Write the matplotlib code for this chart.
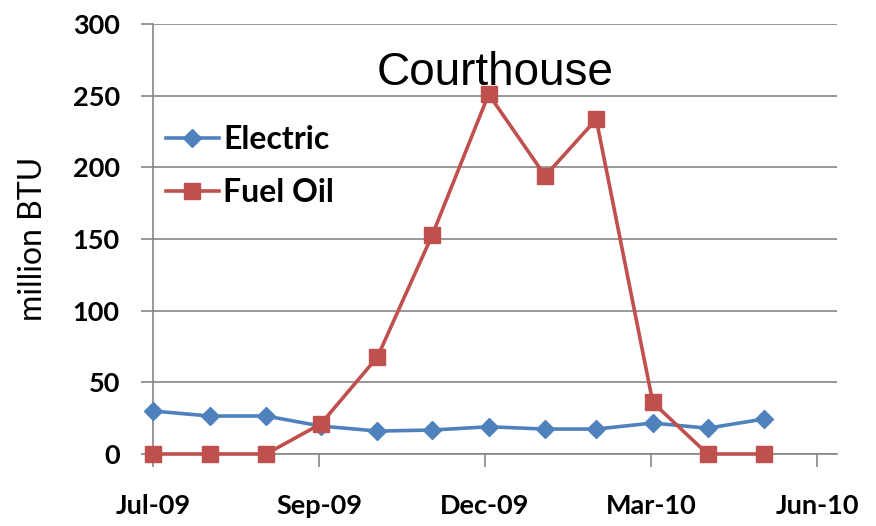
import matplotlib
matplotlib.use("Agg")
import matplotlib.pyplot as plt
import numpy as np
import datetime as dt

months = ["2009-07", "2009-08", "2009-09", "2009-10", "2009-11", "2009-12",
          "2010-01", "2010-02", "2010-03", "2010-04", "2010-05", "2010-06"]
electric = [30, 26.5, 26.5, 19.5, 16, 16.7, 19, 17.4, 17.4, 21.6, 18, 24.4]
fuel_oil = [0, 0, 0, 21, 67.6, 152.5, 251, 194, 233.5, 36, 0, 0]
tick_dates = ["2009-07-01", "2009-09-30", "2009-12-30", "2010-03-31", "2010-06-30"]
tick_labels = ["Jul-09", "Sep-09", "Dec-09", "Mar-10", "Jun-10"]

x = [dt.datetime.strptime(m + "-01", "%Y-%m-%d") for m in months]
ticks = [dt.datetime.strptime(d, "%Y-%m-%d") for d in tick_dates]

fig = plt.figure(figsize=(8.76, 5.26), dpi=100)
ax = fig.add_axes([0.1747, 0.1369, 0.9555 - 0.1747, 0.9544 - 0.1369])

blue = "#4F81BD"
red = "#C0504D"
ax.plot(x, electric, color=blue, lw=2.6, marker="D", ms=9, label="Electric",
        zorder=3, clip_on=False)
ax.plot(x, fuel_oil, color=red, lw=2.6, marker="s", ms=11, label="Fuel Oil",
        zorder=4, clip_on=False)

ax.set_ylim(0, 300)
ax.set_yticks(np.arange(0, 301, 50))
ax.set_xlim(dt.datetime(2009, 7, 1), dt.datetime(2010, 7, 11))
ax.set_xticks(ticks)
ax.set_xticklabels(tick_labels)

ax.grid(axis="y", color="#868686", lw=1.2)
ax.set_axisbelow(True)
for s in ["top", "right"]:
    ax.spines[s].set_visible(False)
for s in ["left", "bottom"]:
    ax.spines[s].set_color("#868686")
    ax.spines[s].set_linewidth(1.2)
ax.tick_params(axis="both", colors="#868686", length=9, width=1.2, labelcolor="black")
ax.tick_params(axis="x", pad=20)
ax.tick_params(axis="y", pad=15)
for lab in ax.get_xticklabels() + ax.get_yticklabels():
    lab.set_fontfamily("Lato")
    lab.set_fontweight("bold")
    lab.set_fontsize(19.5)

ax.set_ylabel("million BTU", fontfamily="Lato", fontsize=23, labelpad=18)
ax.text(0.5, 0.885, "Courthouse", transform=ax.transAxes, ha="center", va="center",
        fontfamily="Liberation Sans", fontsize=33)

leg = ax.legend(loc="upper left", bbox_to_anchor=(0.0, 0.795), frameon=False,
                prop={"family": "Lato", "weight": "bold", "size": 23},
                handlelength=1.65, handletextpad=0.15, labelspacing=0.75,
                borderaxespad=0.3, borderpad=0.1)

fig.savefig("out.png", dpi=100)
